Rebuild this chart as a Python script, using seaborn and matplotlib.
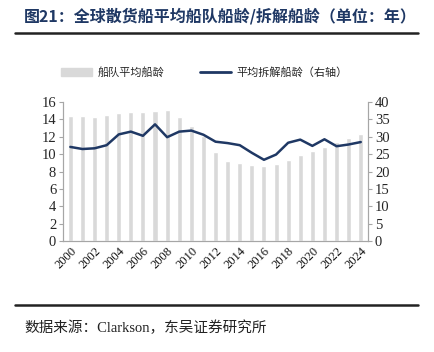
import matplotlib
matplotlib.use("Agg")
import matplotlib.pyplot as plt
from matplotlib.lines import Line2D
import pandas as pd
import seaborn as sns

years = [str(y) for y in range(2000, 2025)]
fleet_age = [14.4, 14.4, 14.25, 14.5, 14.7, 14.85, 14.9, 15.0, 15.05, 14.25,
             13.2, 12.1, 10.2, 9.2, 8.95, 8.75, 8.6, 8.85, 9.35, 9.95,
             10.35, 10.8, 11.4, 11.85, 12.3]
scrap_age = [27.1, 26.5, 26.7, 27.6, 30.7, 31.5, 30.3, 33.6, 29.9, 31.5,
             31.8, 30.6, 28.6, 28.2, 27.6, 25.4, 23.4, 24.9, 28.3, 29.2,
             27.4, 29.3, 27.3, 27.8, 28.5]

bar_label = "船队平均船龄"
line_label = "平均拆解船龄（右轴）"
title = "图21：全球散货船平均船队船龄/拆解船龄（单位：年）"
source = "数据来源：Clarkson，东吴证券研究所"

df = pd.DataFrame({"year": years, "fleet": fleet_age, "scrap": scrap_age})

sns.set_style("white")
plt.rcParams["font.family"] = ["Liberation Serif", "Noto Sans CJK SC"]
cjk = ["Noto Sans CJK SC", "DejaVu Sans"]

bar_color = "#d9d9d9"
line_color = "#1f3864"
spine_color = "#a6a6a6"

fig = plt.figure(figsize=(4.35, 3.52), dpi=100)
ax = fig.add_axes([0.145, 0.315, 0.701, 0.395])

sns.barplot(data=df, x="year", y="fleet", color=bar_color, width=0.42,
            saturation=1, ax=ax)
ax2 = ax.twinx()
sns.lineplot(data=df, x="year", y="scrap", color=line_color, linewidth=1.8,
             ax=ax2)
ax2.xaxis.set_visible(False)

ax.set_ylim(0, 16)
ax.set_yticks(range(0, 17, 2))
ax2.set_ylim(0, 40)
ax2.set_yticks(range(0, 41, 5))
ax.set_xlim(-0.6, len(years) - 0.4)
ax.set_xticks(range(0, len(years), 2))
ax.set_xticklabels(years[::2])
ax.tick_params(axis="x", length=0, pad=3)
ax.tick_params(axis="y", labelsize=10.5, length=3, color=spine_color,
               direction="out", left=True, pad=2)
ax2.tick_params(axis="y", labelsize=10.5, length=3, color=spine_color,
                direction="out", right=True, pad=2)
for a in (ax, ax2):
    a.set_xlabel("")
    a.set_ylabel("")
    a.spines["top"].set_visible(False)
    for s in ("left", "right", "bottom"):
        a.spines[s].set_color(spine_color)
        a.spines[s].set_linewidth(0.8)
plt.setp(ax.get_xticklabels(), rotation=45, ha="right",
         rotation_mode="anchor", fontsize=9, color="#111111")

handles = [plt.Rectangle((0, 0), 1, 1, color=bar_color),
           Line2D([0], [0], color=line_color, linewidth=2)]
fig.legend(handles, [bar_label, line_label], loc="center",
           bbox_to_anchor=(0.47, 0.795), ncol=2, frameon=False,
           prop={"family": cjk, "size": 8}, handlelength=2.8,
           columnspacing=3.2, handletextpad=0.5)

fig.text(0.055, 0.953, title, family=cjk, fontsize=11.5, fontweight="bold",
         color=line_color, va="center")
fig.add_artist(Line2D([0.035, 0.962], [0.906, 0.906], color="#222222",
                      linewidth=1.8, transform=fig.transFigure))
fig.add_artist(Line2D([0.035, 0.962], [0.133, 0.133], color="#222222",
                      linewidth=1.8, transform=fig.transFigure))
fig.text(0.057, 0.07, source, family=["Liberation Serif", "Noto Sans CJK SC"],
         fontsize=10.5, color="#222222", va="center")

fig.savefig("out.png", dpi=100)
